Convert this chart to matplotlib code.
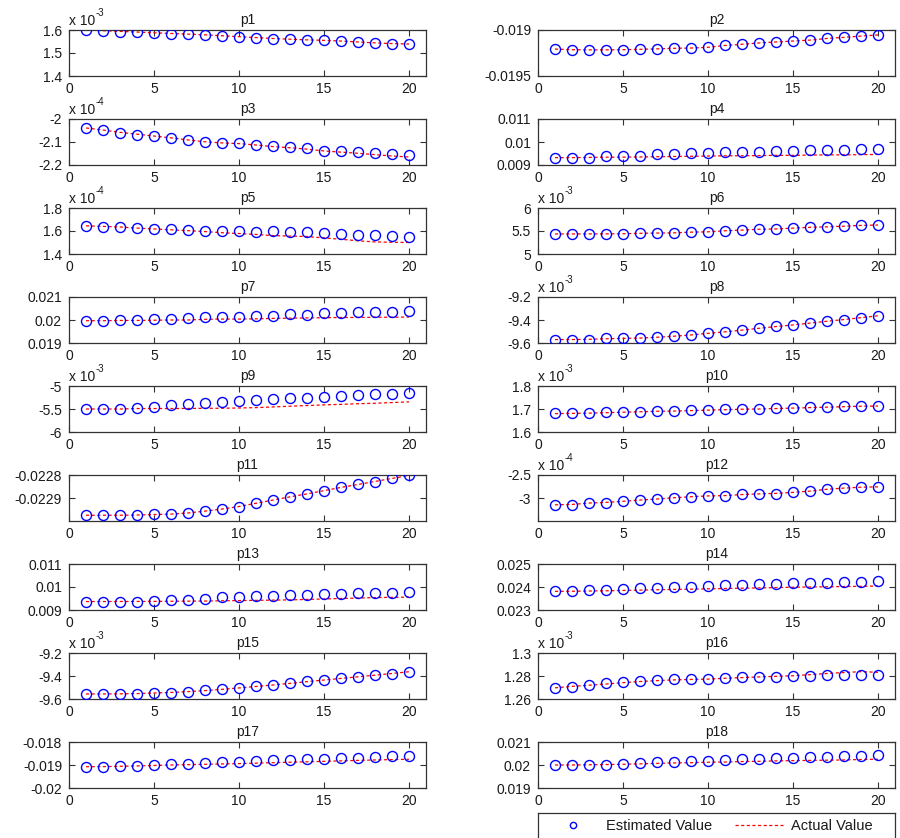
import matplotlib
matplotlib.use("Agg")
import matplotlib.pyplot as plt
from matplotlib.ticker import FuncFormatter, FixedLocator
from matplotlib.lines import Line2D

plt.rcParams['font.family'] = ['Liberation Sans', 'DejaVu Sans']
plt.rcParams['axes.unicode_minus'] = False

steps = list(range(1, 21))
xticks = [0, 5, 10, 15, 20]

# ---- data (displayed units; exponent gives the "x 10^n" multiplier) ----
est_p1 = [1.600, 1.597, 1.593, 1.593, 1.587, 1.583, 1.583, 1.579, 1.573, 1.569,
          1.566, 1.561, 1.561, 1.556, 1.556, 1.551, 1.547, 1.543, 1.539, 1.540]
act_p1 = [1.600, 1.597, 1.594, 1.591, 1.588, 1.585, 1.582, 1.579, 1.575, 1.571,
          1.567, 1.563, 1.560, 1.557, 1.555, 1.552, 1.548, 1.544, 1.541, 1.539]
est_p2 = [-0.019207, -0.019218, -0.019218, -0.019218, -0.019218, -0.019207, -0.019207,
          -0.019196, -0.019200, -0.019189, -0.019164, -0.019154, -0.019139, -0.019129,
          -0.019118, -0.019111, -0.019089, -0.019079, -0.019064, -0.019054]
act_p2 = [-0.019207, -0.019214, -0.019216, -0.019216, -0.019214, -0.019210, -0.019205,
          -0.019199, -0.019196, -0.019188, -0.019168, -0.019155, -0.019141, -0.019130,
          -0.019120, -0.019110, -0.019092, -0.019080, -0.019066, -0.019054]
est_p3 = [-2.039, -2.047, -2.059, -2.068, -2.073, -2.081, -2.092, -2.101, -2.105, -2.105,
          -2.113, -2.119, -2.123, -2.127, -2.138, -2.141, -2.145, -2.150, -2.154, -2.157]
act_p3 = [-2.039, -2.048, -2.058, -2.066, -2.074, -2.082, -2.091, -2.099, -2.104, -2.107,
          -2.113, -2.120, -2.125, -2.131, -2.139, -2.144, -2.149, -2.155, -2.161, -2.165]
est_p4 = [0.00932, 0.00932, 0.00932, 0.00937, 0.00937, 0.00941, 0.00946, 0.00946, 0.00950, 0.00950,
          0.00956, 0.00956, 0.00956, 0.00961, 0.00961, 0.00966, 0.00966, 0.00966, 0.00970, 0.00970]
act_p4 = [0.00932, 0.00932, 0.00933, 0.00934, 0.00934, 0.00935, 0.00936, 0.00937, 0.00938, 0.00939,
          0.00940, 0.00940, 0.00941, 0.00942, 0.00942, 0.00943, 0.00944, 0.00944, 0.00945, 0.00946]
est_p5 = [1.643, 1.637, 1.637, 1.626, 1.620, 1.620, 1.609, 1.600, 1.600, 1.600,
          1.591, 1.600, 1.591, 1.591, 1.583, 1.574, 1.566, 1.566, 1.557, 1.549]
act_p5 = [1.645, 1.640, 1.635, 1.625, 1.618, 1.610, 1.603, 1.595, 1.585, 1.578,
          1.570, 1.560, 1.556, 1.552, 1.540, 1.528, 1.515, 1.505, 1.502, 1.500]
est_p6 = [5.436, 5.436, 5.436, 5.436, 5.436, 5.457, 5.457, 5.457, 5.479, 5.479,
          5.507, 5.521, 5.543, 5.543, 5.564, 5.586, 5.586, 5.607, 5.629, 5.629]
act_p6 = [5.436, 5.436, 5.437, 5.438, 5.440, 5.450, 5.455, 5.460, 5.475, 5.482,
          5.505, 5.520, 5.538, 5.545, 5.562, 5.580, 5.590, 5.605, 5.622, 5.630]
est_p7 = [0.01997, 0.01996, 0.02000, 0.02000, 0.02004, 0.02004, 0.02010, 0.02015, 0.02015, 0.02015,
          0.02019, 0.02019, 0.02025, 0.02022, 0.02030, 0.02030, 0.02033, 0.02033, 0.02033, 0.02039]
act_p7 = [0.01997, 0.01997, 0.01998, 0.01998, 0.01999, 0.02000, 0.02000, 0.02003, 0.02004, 0.02004,
          0.02005, 0.02007, 0.02008, 0.02009, 0.02010, 0.02011, 0.02011, 0.02012, 0.02012, 0.02013]
est_p8 = [-9.570, -9.570, -9.570, -9.559, -9.559, -9.559, -9.550, -9.541, -9.532, -9.514,
          -9.502, -9.486, -9.471, -9.453, -9.444, -9.427, -9.409, -9.397, -9.379, -9.361]
act_p8 = [-9.570, -9.570, -9.568, -9.563, -9.560, -9.557, -9.550, -9.541, -9.530, -9.516,
          -9.503, -9.488, -9.472, -9.457, -9.443, -9.427, -9.411, -9.396, -9.380, -9.363]
est_p9 = [-5.500, -5.500, -5.500, -5.471, -5.450, -5.420, -5.385, -5.363, -5.345, -5.324,
          -5.300, -5.280, -5.260, -5.260, -5.230, -5.210, -5.187, -5.165, -5.165, -5.144]
act_p9 = [-5.500, -5.500, -5.500, -5.490, -5.490, -5.490, -5.488, -5.486, -5.483, -5.478,
          -5.470, -5.455, -5.440, -5.425, -5.410, -5.400, -5.385, -5.375, -5.360, -5.345]
est_p10 = [1.681, 1.681, 1.681, 1.687, 1.687, 1.687, 1.691, 1.691, 1.696, 1.696,
           1.700, 1.700, 1.700, 1.704, 1.704, 1.710, 1.710, 1.714, 1.714, 1.714]
act_p10 = [1.680, 1.681, 1.682, 1.684, 1.686, 1.688, 1.690, 1.691, 1.693, 1.695,
           1.697, 1.699, 1.700, 1.702, 1.704, 1.706, 1.708, 1.710, 1.712, 1.713]
est_p11 = [-0.022975, -0.022975, -0.022975, -0.022975, -0.022971, -0.022971, -0.022965,
           -0.022955, -0.022949, -0.022937, -0.022923, -0.022909, -0.022894, -0.022882,
           -0.022868, -0.022854, -0.022840, -0.022829, -0.022815, -0.022802]
act_p11 = [-0.022975, -0.022975, -0.022975, -0.022974, -0.022972, -0.022970, -0.022965,
           -0.022957, -0.022948, -0.022937, -0.022923, -0.022909, -0.022895, -0.022882,
           -0.022868, -0.022854, -0.022841, -0.022828, -0.022815, -0.022802]
est_p12 = [-3.148, -3.148, -3.102, -3.102, -3.070, -3.040, -3.023, -2.992, -2.969, -2.953,
           -2.953, -2.922, -2.906, -2.906, -2.875, -2.852, -2.805, -2.780, -2.758, -2.758]
act_p12 = [-3.148, -3.140, -3.110, -3.095, -3.072, -3.045, -3.022, -2.995, -2.972, -2.955,
           -2.948, -2.925, -2.910, -2.900, -2.878, -2.850, -2.810, -2.785, -2.765, -2.758]
est_p13 = [0.009368, 0.009368, 0.009368, 0.009368, 0.009380, 0.009440, 0.009440, 0.009500, 0.009560, 0.009560,
           0.009600, 0.009600, 0.009660, 0.009660, 0.009690, 0.009690, 0.009740, 0.009740, 0.009760, 0.009780]
act_p13 = [0.009368, 0.009368, 0.009370, 0.009372, 0.009375, 0.009380, 0.009385, 0.009390, 0.009400, 0.009410,
           0.009420, 0.009430, 0.009440, 0.009460, 0.009480, 0.009500, 0.009520, 0.009540, 0.009550, 0.009560]
est_p14 = [0.023810, 0.023810, 0.023853, 0.023853, 0.023910, 0.023956, 0.023956, 0.024000, 0.024000, 0.024044,
           0.024090, 0.024090, 0.024130, 0.024130, 0.024160, 0.024180, 0.024180, 0.024220, 0.024220, 0.024265]
act_p14 = [0.023810, 0.023815, 0.023825, 0.023835, 0.023850, 0.023865, 0.023880, 0.023895, 0.023905, 0.023920,
           0.023935, 0.023950, 0.023960, 0.023975, 0.023990, 0.024000, 0.024010, 0.024020, 0.024030, 0.024044]
est_p15 = [-9.556, -9.556, -9.556, -9.556, -9.544, -9.544, -9.535, -9.526, -9.517, -9.504,
           -9.490, -9.480, -9.464, -9.446, -9.437, -9.419, -9.410, -9.393, -9.380, -9.363]
act_p15 = [-9.556, -9.556, -9.555, -9.553, -9.548, -9.543, -9.536, -9.527, -9.516, -9.504,
           -9.491, -9.478, -9.464, -9.449, -9.435, -9.421, -9.407, -9.393, -9.378, -9.363]
est_p16 = [1.2697, 1.2706, 1.2724, 1.2735, 1.2744, 1.2753, 1.2762, 1.2771, 1.2771, 1.2771,
           1.2779, 1.2788, 1.2788, 1.2788, 1.2797, 1.2797, 1.2806, 1.2806, 1.2806, 1.2806]
act_p16 = [1.2697, 1.2710, 1.2720, 1.2730, 1.2742, 1.2752, 1.2760, 1.2766, 1.2770, 1.2773,
           1.2780, 1.2786, 1.2792, 1.2797, 1.2802, 1.2812, 1.2822, 1.2830, 1.2838, 1.2832]
est_p17 = [-0.019074, -0.019074, -0.019030, -0.019030, -0.018990, -0.018944, -0.018944, -0.018900, -0.018850, -0.018850,
           -0.018810, -0.018765, -0.018765, -0.018720, -0.018720, -0.018690, -0.018690, -0.018650, -0.018600, -0.018600]
act_p17 = [-0.019074, -0.019070, -0.019055, -0.019040, -0.019020, -0.019000, -0.018985, -0.018970, -0.018955, -0.018940,
           -0.018920, -0.018900, -0.018880, -0.018860, -0.018840, -0.018820, -0.018800, -0.018780, -0.018765, -0.018750]
est_p18 = [0.02000, 0.02000, 0.02000, 0.02000, 0.02003, 0.02007, 0.02013, 0.02013, 0.02018, 0.02018,
           0.02022, 0.02027, 0.02027, 0.02031, 0.02031, 0.02036, 0.02036, 0.02040, 0.02040, 0.02045]
act_p18 = [0.02000, 0.02000, 0.02001, 0.02002, 0.02003, 0.02005, 0.02007, 0.02009, 0.02010, 0.02012,
           0.02013, 0.02015, 0.02016, 0.02018, 0.02019, 0.02020, 0.02021, 0.02022, 0.02024, 0.02025]

titles = ['p%d' % i for i in range(1, 19)]
legend_labels = ['Estimated Value', 'Actual Value']
estimated = [est_p1, est_p2, est_p3, est_p4, est_p5, est_p6, est_p7, est_p8, est_p9,
             est_p10, est_p11, est_p12, est_p13, est_p14, est_p15, est_p16, est_p17, est_p18]
actual = [act_p1, act_p2, act_p3, act_p4, act_p5, act_p6, act_p7, act_p8, act_p9,
          act_p10, act_p11, act_p12, act_p13, act_p14, act_p15, act_p16, act_p17, act_p18]
exponents = [-3, None, -4, None, -4, -3, None, -3, -3, -3, None, -4, None, None, -3, -3, None, None]
ylims = [(1.4, 1.6), (-0.0195, -0.019), (-2.2, -2.0), (0.009, 0.011), (1.4, 1.8), (5, 6),
         (0.019, 0.021), (-9.6, -9.2), (-6, -5), (1.6, 1.8), (-0.023, -0.0228), (-3.5, -2.5),
         (0.009, 0.011), (0.023, 0.025), (-9.6, -9.2), (1.26, 1.3), (-0.02, -0.018), (0.019, 0.021)]
yticks = [[1.4, 1.5, 1.6], [-0.0195, -0.019], [-2.2, -2.1, -2.0], [0.009, 0.01, 0.011],
          [1.4, 1.6, 1.8], [5, 5.5, 6], [0.019, 0.02, 0.021], [-9.6, -9.4, -9.2],
          [-6, -5.5, -5], [1.6, 1.7, 1.8], [-0.0229, -0.0228], [-3, -2.5],
          [0.009, 0.01, 0.011], [0.023, 0.024, 0.025], [-9.6, -9.4, -9.2],
          [1.26, 1.28, 1.3], [-0.02, -0.019, -0.018], [0.019, 0.02, 0.021]]

W, H = 900, 838
fig = plt.figure(figsize=(W / 100, H / 100), dpi=100, facecolor='white')

col_left = [69, 538]
ax_w = 357
ax_h = 46
row_top0 = 30
row_step = 89
fs = 10
txt_color = '#1a1a1a'
dash = (0, (2.5, 2))

fmt = FuncFormatter(lambda v, p: '%g' % round(v, 8))

for i in range(18):
    r, c = divmod(i, 2)
    top = row_top0 + row_step * r
    ax = fig.add_axes([col_left[c] / W, 1 - (top + ax_h) / H, ax_w / W, ax_h / H])
    ax.plot(steps, actual[i], linestyle=dash, color='red', linewidth=0.9, zorder=2)
    ax.plot(steps, estimated[i], linestyle='none', marker='o', markersize=7.2,
            markerfacecolor='none', markeredgecolor='blue', markeredgewidth=1.0, zorder=3)
    ax.set_xlim(0, 21)
    ax.set_ylim(*ylims[i])
    ax.xaxis.set_major_locator(FixedLocator(xticks))
    ax.yaxis.set_major_locator(FixedLocator(yticks[i]))
    ax.yaxis.set_major_formatter(fmt)
    ax.tick_params(direction='in', top=True, right=True, length=4, width=0.8,
                   labelsize=fs, colors='#333333', labelcolor=txt_color)
    ax.tick_params(axis='x', pad=4.5)
    ax.tick_params(axis='y', pad=5)
    for s in ax.spines.values():
        s.set_linewidth(0.9)
        s.set_color('#333333')
    ax.set_title(titles[i], fontsize=fs, pad=4, color=txt_color)
    if exponents[i] is not None:
        t = ax.text(0, 1.04, 'x 10', transform=ax.transAxes,
                    ha='left', va='bottom', fontsize=fs, color=txt_color)
        ax.annotate('%d' % exponents[i], xy=(1, 0.75), xycoords=t,
                    xytext=(0.5, 0), textcoords='offset points',
                    ha='left', va='bottom', fontsize=fs * 0.7, color=txt_color)

# legend box (its lower edge lies below the figure, as in the reference)
lax = fig.add_axes([538 / W, 1 - 844 / H, 357 / W, 31 / H])
lax.set_xticks([])
lax.set_yticks([])
for s in lax.spines.values():
    s.set_linewidth(0.9)
    s.set_color('#333333')
handles = [Line2D([], [], linestyle='none', marker='o', markersize=4.5, markerfacecolor='none',
                  markeredgecolor='blue', markeredgewidth=1.0),
           Line2D([], [], linestyle=dash, color='red', linewidth=0.9)]
leg = lax.legend(handles, legend_labels, ncol=2, loc='center left',
                 bbox_to_anchor=(549.5 / W, 1 - 826 / H), bbox_transform=fig.transFigure,
                 fontsize=10.5, frameon=False, borderpad=0, borderaxespad=0,
                 handlelength=3.25, handletextpad=0.6, columnspacing=1.6)
for tx in leg.get_texts():
    tx.set_color(txt_color)

fig.savefig('out.png', dpi=100, facecolor='white')
